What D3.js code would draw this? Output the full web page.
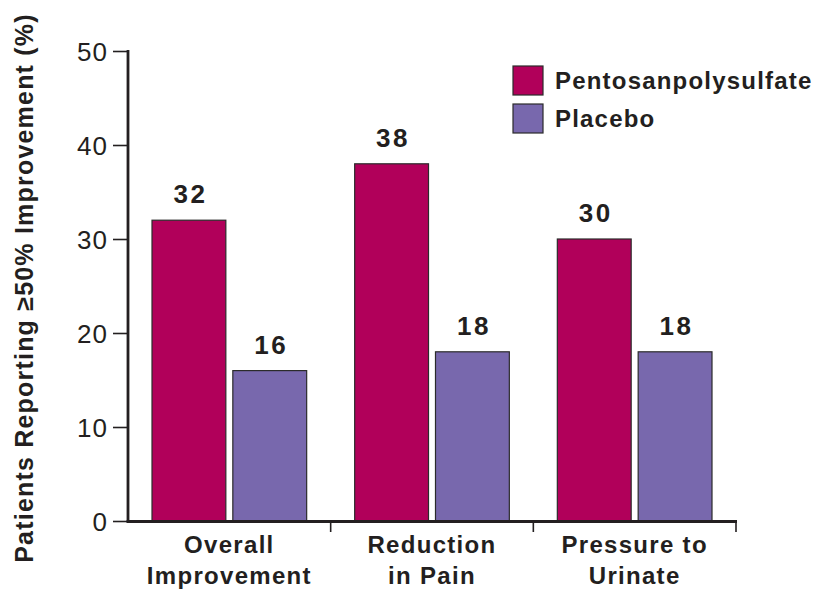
<!DOCTYPE html>
<html>
<head>
<meta charset="utf-8">
<script src="https://cdn.jsdelivr.net/npm/d3@7"></script>
<style>
  html, body { margin: 0; padding: 0; background: #fff; }
  svg { display: block; font-family: "Liberation Sans", Arial, Helvetica, sans-serif; }
</style>
</head>
<body>
<svg id="chart" width="816" height="590"></svg>
<script>
// Outcome categories (two-line labels) and series
const categories = ["Overall Improvement", "Reduction in Pain", "Pressure to Urinate"];
const categoryLines = [["Overall", "Improvement"], ["Reduction", "in Pain"], ["Pressure to", "Urinate"]];
const series = ["Pentosanpolysulfate", "Placebo"];
const pentosanValues = [32, 38, 30];
const placeboValues = [16, 18, 18];
const yTicks = [0, 10, 20, 30, 40, 50];
const yTitle = "Patients Reporting \u226550% Improvement (%)";

const colors = { "Pentosanpolysulfate": "#b1005a", "Placebo": "#7868ad" };
const ink = "#231f20";

const rows = categories.map((c, i) => ({
  category: c,
  values: [
    { key: series[0], value: pentosanValues[i] },
    { key: series[1], value: placeboValues[i] }
  ]
}));

const svg = d3.select("#chart");

const x0 = d3.scaleBand().domain(categories).range([128, 736]).paddingInner(0).paddingOuter(0);
const x1 = d3.scaleBand().domain(series).range([24, x0.bandwidth() - 24]).paddingInner(7 / 81);
const y = d3.scaleLinear().domain([0, 50]).range([521, 51]);

// Bars
const groups = svg.append("g").selectAll("g")
  .data(rows).join("g")
  .attr("transform", d => `translate(${x0(d.category)},0)`);

groups.selectAll("rect")
  .data(d => d.values).join("rect")
  .attr("x", d => x1(d.key))
  .attr("y", d => y(d.value))
  .attr("width", x1.bandwidth())
  .attr("height", d => y(0) - y(d.value))
  .attr("fill", d => colors[d.key])
  .attr("stroke", "#2b2b2b")
  .attr("stroke-width", 1.2);

// Value labels above bars
groups.selectAll("text.val")
  .data(d => d.values).join("text")
  .attr("class", "val")
  .attr("x", d => x1(d.key) + x1.bandwidth() / 2 + 1.5)
  .attr("y", d => y(d.value) - 17)
  .attr("text-anchor", "middle")
  .attr("font-size", 26)
  .attr("font-weight", "bold")
  .attr("letter-spacing", 2.5)
  .attr("fill", ink)
  .text(d => d.value);

// Y axis
const yAxis = d3.axisLeft(y).tickValues(yTicks).tickSize(15).tickPadding(5);
const gy = svg.append("g").attr("transform", "translate(128,0)").call(yAxis);
gy.select(".domain").remove();
gy.selectAll(".tick line").attr("stroke", ink).attr("stroke-width", 1.6);
gy.selectAll(".tick text")
  .attr("font-size", 26)
  .attr("letter-spacing", 1)
  .attr("font-family", "'Liberation Sans', Arial, sans-serif")
  .attr("fill", ink)
  .attr("dy", "0.36em");
svg.append("line")
  .attr("x1", 128).attr("x2", 128)
  .attr("y1", y(50) - 1).attr("y2", y(0) + 1.5)
  .attr("stroke", ink).attr("stroke-width", 2.8);

// X axis baseline with ticks at the category boundaries
svg.append("line")
  .attr("x1", 126.6).attr("x2", 737)
  .attr("y1", y(0) + 0.5).attr("y2", y(0) + 0.5)
  .attr("stroke", ink).attr("stroke-width", 2.8);
svg.append("g").selectAll("line")
  .data(categories).join("line")
  .attr("x1", d => x0(d) + x0.bandwidth())
  .attr("x2", d => x0(d) + x0.bandwidth())
  .attr("y1", y(0)).attr("y2", y(0) + 11)
  .attr("stroke", ink).attr("stroke-width", 1.6);

// Category labels
const catLabels = svg.append("g").selectAll("text")
  .data(categories).join("text")
  .attr("text-anchor", "middle")
  .attr("font-size", 24)
  .attr("font-weight", "bold")
  .attr("letter-spacing", 1.3)
  .attr("fill", ink);
catLabels.each(function(d, i) {
  const t = d3.select(this);
  categoryLines[i].forEach((line, j) => {
    t.append("tspan")
      .attr("x", x0(d) + x0.bandwidth() / 2)
      .attr("y", 553 + j * 31)
      .text(line);
  });
});

// Y axis title
svg.append("text")
  .attr("transform", "translate(33,288) rotate(-90)")
  .attr("text-anchor", "middle")
  .attr("font-size", 25)
  .attr("font-weight", "bold")
  .attr("letter-spacing", 1.2)
  .attr("fill", ink)
  .text(yTitle);

// Legend
const legend = svg.append("g").selectAll("g")
  .data(series).join("g")
  .attr("transform", (d, i) => `translate(513,${66 + i * 38})`);
legend.append("rect")
  .attr("width", 30).attr("height", 29)
  .attr("fill", d => colors[d])
  .attr("stroke", "#2b2b2b").attr("stroke-width", 1.2);
legend.append("text")
  .attr("x", 42).attr("y", 22.5)
  .attr("font-size", 24)
  .attr("font-weight", "bold")
  .attr("letter-spacing", 1.2)
  .attr("fill", ink)
  .text(d => d);
</script>
</body>
</html>
